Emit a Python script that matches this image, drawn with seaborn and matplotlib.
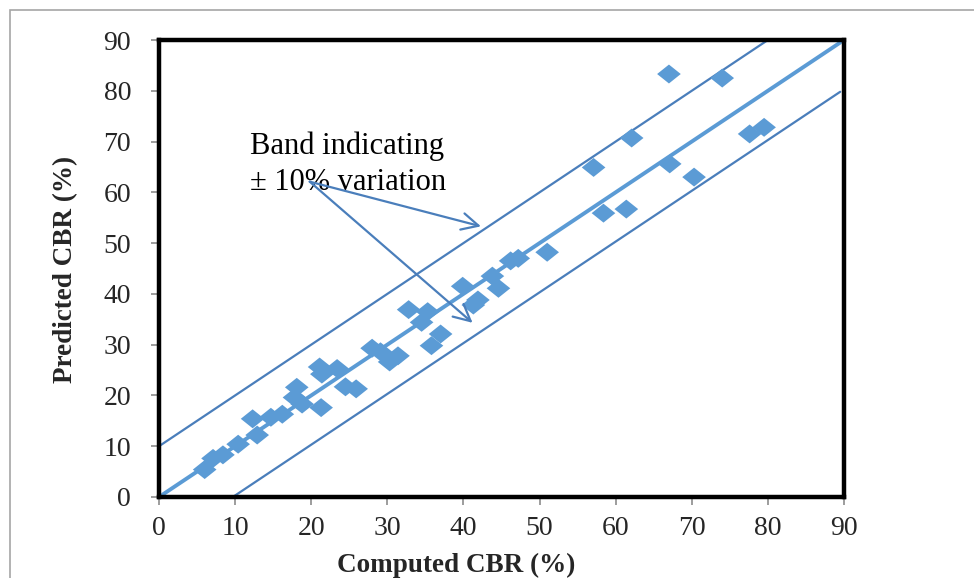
import matplotlib
matplotlib.use("Agg")
import matplotlib.pyplot as plt
import seaborn as sns
import pandas as pd
import numpy as np
from matplotlib.path import Path
from matplotlib.patches import Rectangle

sns.set_theme(style="white")
plt.rcParams['font.family'] = ['Liberation Serif', 'DejaVu Serif']

# Data
computed_cbr = [6.0, 7.1, 8.4, 10.4, 12.9, 12.3, 14.7, 16.2, 17.8, 18.1, 18.8, 21.3,
                21.1, 21.4, 23.4, 24.5, 25.9, 28.0, 29.1, 30.3, 31.4, 32.8, 34.5,
                35.3, 35.8, 37.0, 39.9, 41.3, 41.9, 43.8, 44.6, 46.2, 47.2, 51.0,
                57.1, 58.4, 61.4, 62.1, 67.0, 67.1, 70.3, 74.0, 77.6, 79.5]
predicted_cbr = [5.4, 7.6, 8.3, 10.4, 12.2, 15.4, 15.7, 16.3, 19.6, 21.6, 18.3, 17.6,
                 25.6, 24.2, 25.3, 21.7, 21.3, 29.3, 28.6, 26.6, 27.8, 36.9, 34.4,
                 36.5, 29.8, 32.1, 41.5, 37.8, 38.8, 43.5, 41.1, 46.5, 47.0, 48.2,
                 64.9, 55.9, 56.7, 70.7, 83.3, 65.6, 63.0, 82.5, 71.5, 72.8]

fit_x = [0.5, 89.5]
fit_y = [0.5, 89.5]
upper_x = [0, 80]
upper_y = [10, 90]
lower_x = [9.7, 89.5]
lower_y = [0, 79.8]

annot_text = "Band indicating\n\u00b1 10% variation"
arrow_start = (19.8, 62.1)
arrow_heads = [(42.3, 53.3), (41.2, 34.3)]

ticks = list(range(0, 91, 10))

df = pd.DataFrame({"Computed CBR (%)": computed_cbr, "Predicted CBR (%)": predicted_cbr})

fig = plt.figure(figsize=(9.74, 5.78), dpi=100)
fig.patch.set_facecolor("white")
# outer border
fig.patches.append(Rectangle((10 / 974, -0.1), 1.2, (578 - 10) / 578 + 0.1,
                             transform=fig.transFigure, fill=False,
                             edgecolor="#a6a6a6", linewidth=1.2))

ax = fig.add_axes([159 / 974, (578 - 497) / 578, (844 - 159) / 974, (497 - 40) / 578])
ax.set_facecolor("white")

band_color = "#4a7ebb"
pt_color = "#5b9bd5"

sns.lineplot(x=upper_x, y=upper_y, ax=ax, color=band_color, linewidth=1.6)
sns.lineplot(x=lower_x, y=lower_y, ax=ax, color=band_color, linewidth=1.6)
sns.lineplot(x=fit_x, y=fit_y, ax=ax, color=pt_color, linewidth=2.8)

diamond = Path([(-1, 0), (0, 0.8), (1, 0), (0, -0.8), (-1, 0)],
               [Path.MOVETO, Path.LINETO, Path.LINETO, Path.LINETO, Path.CLOSEPOLY])
sns.scatterplot(data=df, x="Computed CBR (%)", y="Predicted CBR (%)", ax=ax,
                marker=diamond, s=290, color=pt_color, edgecolor="none", linewidth=0,
                zorder=3)

ax.text(11.9, 72.0, annot_text, fontsize=22, color="black", ha="left",
        va="top", linespacing=1.3)
for hx, hy in arrow_heads:
    ax.annotate("", xy=(hx, hy), xytext=arrow_start,
                arrowprops=dict(arrowstyle="->,head_length=1.0,head_width=0.5",
                                color=band_color, lw=1.6, shrinkA=0, shrinkB=0))

ax.set_xlim(0, 90)
ax.set_ylim(0, 90)
ax.set_xticks(ticks)
ax.set_yticks(ticks)
ax.set_xticklabels([str(t) for t in ticks], fontsize=20)
ax.set_yticklabels([str(t) for t in ticks], fontsize=20)
ax.tick_params(axis="both", which="both", direction="out", length=6, width=1.2,
               color="#8c8c8c", bottom=True, left=True)
ax.tick_params(axis="x", pad=8)
ax.tick_params(axis="y", pad=14)
ax.set_xlabel("Computed CBR (%)", fontsize=19.5, fontweight="bold")
ax.set_ylabel("Predicted CBR (%)", fontsize=19.5, fontweight="bold")
ax.xaxis.label.set_va("center")
ax.xaxis.set_label_coords((456 - 159) / 685, (497 - 565) / 457)
ax.yaxis.label.set_va("center")
ax.yaxis.set_label_coords((66 - 159) / 685, (497 - 269) / 457)

for sp in ax.spines.values():
    sp.set_visible(True)
    sp.set_color("black")
    sp.set_linewidth(3.2)

ax.grid(False)
fig.savefig("out.png", dpi=100, facecolor="white")
